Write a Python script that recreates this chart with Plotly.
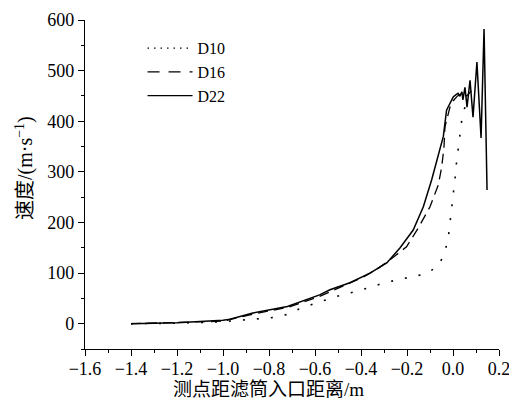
import plotly.graph_objects as go

# D10 (dotted)
d10_x = [-1.4, -1.2, -1.0, -0.913, -0.854, -0.788, -0.723, -0.665, -0.607, -0.549, -0.484, -0.419, -0.361,
         -0.303, -0.238, -0.178, -0.113, -0.061, -0.035, -0.02, -0.013, -0.004, 0.003, 0.009, 0.015, 0.022,
         0.03, 0.038, 0.05, 0.065]
d10_y = [0, 1, 4, 7, 10, 12, 18, 30, 39, 47, 57, 64, 72,
         80, 87, 93, 99, 116, 142, 172, 199, 229, 258, 288, 317, 345,
         379, 402, 425, 440]

# D16 (dashed)
d16_x = [-1.4, -1.2, -1.0, -0.87, -0.72, -0.58, -0.491, -0.391, -0.33, -0.274, -0.202, -0.151, -0.1, -0.064,
         -0.049, -0.039, -0.035, -0.013, 0.0, 0.02, 0.04, 0.06, 0.08]
d16_y = [0, 2, 5, 19, 32, 54, 72, 92, 108, 126, 152, 189, 231, 274,
         310, 350, 389, 428, 440, 450, 455, 450, 460]

# D22 (solid)
d22_x = [-1.4, -1.2, -1.0, -0.97, -0.87, -0.72, -0.58, -0.535, -0.448, -0.361, -0.288, -0.23, -0.173, -0.129,
         -0.093, -0.064, -0.042, -0.028, -0.01, 0.001, 0.012, 0.022, 0.03, 0.039, 0.043, 0.052, 0.061,
         0.074, 0.087, 0.104, 0.122, 0.135, 0.148]
d22_y = [0, 2, 7, 9, 21, 34, 57, 67, 81, 100, 120, 150, 185, 231,
         284, 330, 370, 422, 440, 448, 452, 455, 450, 458, 442, 467, 428,
         481, 408, 517, 367, 582, 264]

x_ticks = [-1.6, -1.4, -1.2, -1.0, -0.8, -0.6, -0.4, -0.2, 0.0, 0.2]
x_tick_text = ["−1.6", "−1.4", "−1.2", "−1.0", "−0.8", "−0.6", "−0.4", "−0.2", "0.0", "0.2"]
y_ticks = [0, 100, 200, 300, 400, 500, 600]

series_names = ["D10", "D16", "D22"]

serif = "Liberation Serif"
cjk = "Liberation Serif, Noto Sans CJK SC"

fig = go.Figure()
# curves
fig.add_trace(go.Scatter(x=d10_x, y=d10_y, mode="lines", name=series_names[0], showlegend=False,
                         line=dict(color="black", width=1.6, dash="2px,12px")))
fig.add_trace(go.Scatter(x=d16_x, y=d16_y, mode="lines", name=series_names[1], showlegend=False,
                         line=dict(color="black", width=1.3, dash="10px,6px")))
fig.add_trace(go.Scatter(x=d22_x, y=d22_y, mode="lines", name=series_names[2], showlegend=False,
                         line=dict(color="black", width=1.5)))
# legend entries
fig.add_trace(go.Scatter(x=[None], y=[None], mode="lines", name=series_names[0],
                         line=dict(color="black", width=1.3, dash="1.5px,5px")))
fig.add_trace(go.Scatter(x=[None], y=[None], mode="lines", name=series_names[1],
                         line=dict(color="black", width=1.3, dash="12px,9px")))
fig.add_trace(go.Scatter(x=[None], y=[None], mode="lines", name=series_names[2],
                         line=dict(color="black", width=1.3)))

# page body has an 8px margin, so the figure is sized/offset to compensate
fig.update_layout(
    width=509, height=402,
    margin=dict(l=77, r=18, t=12, b=61),
    paper_bgcolor="white", plot_bgcolor="white",
    font=dict(family=serif, size=18, color="black"),
    showlegend=True,
    legend=dict(x=0.139, y=0.966, xanchor="left", yanchor="top",
                bgcolor="rgba(0,0,0,0)", font=dict(size=16, family=serif, color="black"),
                tracegroupgap=0, itemwidth=45),
    xaxis=dict(range=[-1.6, 0.2], tickmode="array", tickvals=x_ticks, ticktext=x_tick_text,
               automargin=False, ticklabelstandoff=-3,
               showgrid=False, zeroline=False, showline=True, linecolor="black", linewidth=1.3,
               ticks="outside", ticklen=6, tickcolor="black", tickwidth=1.2,
               tickfont=dict(size=18, family=serif, color="black"),
               minor=dict(dtick=0.1, tick0=-1.6, ticks="outside", ticklen=3, tickcolor="black")),
    yaxis=dict(range=[-50, 600], tickmode="array", tickvals=y_ticks,
               automargin=False,
               showgrid=False, zeroline=False, showline=True, linecolor="black", linewidth=1.3,
               ticks="outside", ticklen=6, tickcolor="black", tickwidth=1.2,
               tickfont=dict(size=18, family=serif, color="black"),
               minor=dict(dtick=50, tick0=0, ticks="outside", ticklen=3, tickcolor="black")),
    annotations=[
        dict(text="测点距滤筒入口距离/m", xref="paper", yref="paper", x=(268 - 85) / 414, y=0,
             yshift=-40, xanchor="center", yanchor="middle", showarrow=False,
             font=dict(size=19, family=cjk, color="black")),
        dict(text="速度/(m·s<sup>−1</sup>)", xref="paper", yref="paper", x=0, y=(349 - 168) / 329,
             xshift=-60, xanchor="center", yanchor="middle", textangle=-90, showarrow=False,
             font=dict(size=20, family=cjk, color="black")),
    ],
)

fig.write_html("out.html")
